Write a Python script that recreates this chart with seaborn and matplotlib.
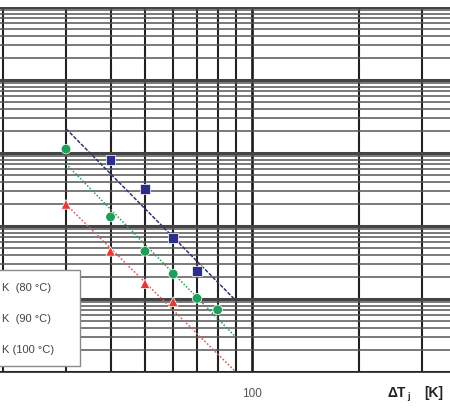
import numpy as np
import pandas as pd
import matplotlib
matplotlib.use('Agg')
import matplotlib.pyplot as plt
from matplotlib.lines import Line2D
from matplotlib.ticker import LogLocator, NullFormatter
import seaborn as sns

sns.set_style('white')
plt.rcParams['font.family'] = ['Liberation Sans', 'DejaVu Sans']

# measured points, delta Tj [K] vs cycles to failure
dT_blue = [40, 50, 60, 70]
N_blue = [8.0e5, 3.2e5, 6.9e4, 2.4e4]
dT_green = [30, 40, 50, 60, 70, 80]
N_green = [1.13e6, 1.33e5, 4.5e4, 2.2e4, 1.02e4, 7.1e3]
dT_red = [30, 40, 50, 60]
N_red = [1.98e5, 4.5e4, 1.62e4, 9.2e3]

# fitted lines (end points)
fit_dT = [30, 90]
fit_blue = [2.15e6, 9.5e3]
fit_green = [7.1e5, 3.0e3]
fit_red = [1.98e5, 1.0e3]

series = ['b', 'g', 'r']
# only the right part of the legend labels is visible in the cropped scan
labels = ['K  (80 °C)', 'K  (90 °C)', 'K (100 °C)']
colors = {'b': '#2b2f8a', 'g': '#1f9e5a', 'r': '#e53a33'}
line_colors = {'b': '#34346e', 'g': '#2c9a5c', 'r': '#e06060'}
markers = {'b': 's', 'g': 'o', 'r': '^'}

pts = pd.concat([
    pd.DataFrame({'dT': dT_blue, 'N': N_blue, 'series': 'b'}),
    pd.DataFrame({'dT': dT_green, 'N': N_green, 'series': 'g'}),
    pd.DataFrame({'dT': dT_red, 'N': N_red, 'series': 'r'}),
], ignore_index=True)
fits = pd.concat([
    pd.DataFrame({'dT': fit_dT, 'N': fit_blue, 'series': 'b'}),
    pd.DataFrame({'dT': fit_dT, 'N': fit_green, 'series': 'g'}),
    pd.DataFrame({'dT': fit_dT, 'N': fit_red, 'series': 'r'}),
], ignore_index=True)

W, H = 450, 410
fig = plt.figure(figsize=(4.5, 4.1), dpi=100)
# axes run past the left and right edge of the picture (cropped scan)
ax = fig.add_axes([-20 / W, 37 / H, 490 / W, 365 / H])
ax.set_xscale('log')
ax.set_yscale('log')
ax.set_xlim(17.2, 409)
ax.set_ylim(1e3, 1e8)

ax.yaxis.set_major_locator(LogLocator(base=10, numticks=20))
ax.yaxis.set_minor_locator(LogLocator(base=10, subs=np.arange(2, 10), numticks=20))
ax.xaxis.set_minor_locator(LogLocator(base=10, subs=np.arange(2, 10), numticks=20))
ax.xaxis.set_minor_formatter(NullFormatter())
ax.set_xticks([100], ['100'])

ax.grid(which='major', axis='y', color='#444444', lw=2.2)
ax.grid(which='minor', axis='y', color='#555555', lw=1.1)
ax.grid(which='major', axis='x', color='#1a1a1a', lw=1.9)
ax.grid(which='minor', axis='x', color='#222222', lw=1.5)
ax.set_axisbelow(True)

for s in ['left', 'right', 'top']:
    ax.spines[s].set_visible(False)
ax.spines['bottom'].set_color('#222222')
ax.spines['bottom'].set_linewidth(1.2)

ax.tick_params(axis='y', which='both', left=False, labelleft=False)
ax.tick_params(axis='x', which='major', direction='out', length=7, width=1.6,
               color='#111111', labelsize=8.5, labelcolor='#555555', pad=4)
ax.tick_params(axis='x', which='minor', direction='out', length=3, width=0.8,
               color='#777777')

sns.lineplot(data=fits, x='dT', y='N', hue='series', style='series',
             palette=line_colors, dashes={'b': (2.5, 1), 'g': (1, 1.2), 'r': (1.2, 1.2)},
             lw=1.1, estimator=None, legend=False, ax=ax)
sns.scatterplot(data=pts, x='dT', y='N', hue='series', style='series',
                palette=colors, markers=markers, s=48, linewidth=0.5,
                legend=False, ax=ax, zorder=5)
ax.set_xlabel('')
ax.set_ylabel('')

handles = [Line2D([], [], color=line_colors[k], marker=markers[k], markersize=6,
                  markerfacecolor=colors[k], markeredgecolor=colors[k], lw=1.1)
           for k in series]
leg_kw = dict(fontsize=8, labelspacing=1.9, borderpad=1.05, borderaxespad=0,
              fancybox=False, framealpha=1, edgecolor='#8a8a8a',
              bbox_transform=fig.transFigure)
leg = fig.legend(handles, labels, loc='upper left',
                 bbox_to_anchor=(0, 1 - 271 / H), **leg_kw)

# shift the legend so the label text starts at the left edge (handles fall
# outside the picture, as in the cropped scan) and the frame ends at x = 80 px
fig.canvas.draw()
rend = fig.canvas.get_renderer()
fb = leg.get_frame().get_window_extent(rend)
tx0 = min(t.get_window_extent(rend).x0 for t in leg.get_texts())
shift = 2 - tx0
x0 = fb.x0 + shift
wbox = 80 - x0
leg.remove()
leg = fig.legend(handles, labels, loc='upper left', mode='expand',
                 bbox_to_anchor=(x0 / W, 0, wbox / W, 1 - 271 / H), **leg_kw)
for t in leg.get_texts():
    t.set_color('#444444')
leg.get_frame().set_linewidth(1.0)

# axis title
fig.text(388 / W, 1 - 393 / H, 'ΔT', fontsize=10, fontweight='bold', color='#222222',
         va='center', ha='left')
fig.text(407 / W, 1 - 397 / H, 'j', fontsize=6.5, fontweight='bold', color='#222222',
         va='center', ha='left')
fig.text(424 / W, 1 - 393 / H, '[K]', fontsize=10, fontweight='bold', color='#222222',
         va='center', ha='left')

fig.savefig('out.png', dpi=100)
